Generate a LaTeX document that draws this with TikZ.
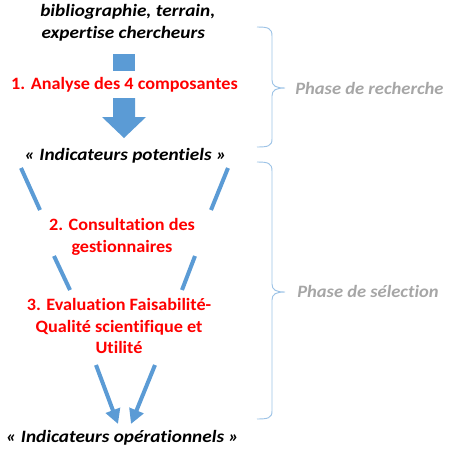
\documentclass[tikz,border=0pt]{standalone}
\usepackage{fontspec}
\setmainfont{Carlito}[Ligatures=NoCommon]
\newfontfamily\redfont{Carlito}[FakeStretch=1.05, Ligatures=NoCommon]
\newfontfamily\blackfont{Carlito}[FakeStretch=1.11, Ligatures=NoCommon]
\newfontfamily\phasefont{Carlito}[FakeStretch=1.07, Ligatures=NoCommon]
\usetikzlibrary{arrows.meta}
\definecolor{flowblue}{HTML}{5B9BD5}
\definecolor{braceblue}{HTML}{9DC3E6}
\definecolor{phasegrey}{HTML}{A6A6A6}
\definecolor{stepred}{HTML}{FF0000}
\tikzset{
  blacktxt/.style={font=\blackfont\fontsize{13}{15}\selectfont\bfseries\itshape, text=black, inner sep=0pt},
  redtxt/.style={font=\redfont\fontsize{13}{15}\selectfont\bfseries, text=stepred, inner sep=0pt, align=center},
  phasetxt/.style={font=\phasefont\fontsize{13}{15}\selectfont\bfseries\itshape, text=phasegrey, inner sep=0pt, anchor=west},
  funnel/.style={draw=flowblue, line width=3pt},
  flowarrow/.style={draw=flowblue, line width=3pt, -{Triangle[length=11pt,width=11pt]}},
  bracestyle/.style={draw=braceblue, line width=0.7pt},
}
\begin{document}
\begin{tikzpicture}[x=0.75pt,y=-0.75pt]
\useasboundingbox (0,0) rectangle (450,451);
% top sources
\node[blacktxt, align=left, anchor=north west] (src) at (40,4) {bibliographie, terrain,\\[1.5pt]\hspace*{1pt}expertise chercheurs};
% small square
\fill[flowblue] (113,54) rectangle (135,71);
% step 1
\node[redtxt] (s1) at (124.5,85) {1. Analyse des 4 composantes};
% big arrow
\fill[flowblue] (113,98) -- (135,98) -- (135,117) -- (146,117) -- (124,138) -- (102,117) -- (113,117) -- cycle;
% potentiels
\node[blacktxt] (pot) at (125.5,156) {« Indicateurs potentiels »};
% funnel 1
\draw[funnel] (21,168) -- (40,210);
\draw[funnel] (228,168) -- (211,210);
% step 2
\node[redtxt] (s2) at (122,237) {2. Consultation des\\[1pt]gestionnaires};
% funnel 2
\draw[funnel] (54,256) -- (70,290);
\draw[funnel] (195,256) -- (182,290);
% step 3
\node[redtxt] (s3) at (119,326) {3. Evaluation Faisabilité-\\[1pt]Qualité scientifique et\\[1pt]Utilité};
% arrows
\coordinate (la) at (96,365);
\coordinate (lb) at (118,424);
\coordinate (ra) at (155,365);
\coordinate (rb) at (131,424);
\draw[flowarrow] (la) -- (lb);
\draw[flowarrow] (ra) -- (rb);
% operationnels
\node[blacktxt] (ope) at (122.5,438) {« Indicateurs opérationnels »};
% braces
\draw[bracestyle] (257,27) .. controls (268,27) and (272,28) .. (272,36) -- (272,80) .. controls (272,86) and (276,88) .. (285,88) .. controls (276,88) and (272,90) .. (272,96) -- (272,139) .. controls (272,146) and (268,147) .. (257,147);
\draw[bracestyle] (257,162) .. controls (268,162) and (272,163) .. (272,171) -- (272,284) .. controls (272,290) and (276,292) .. (285,292) .. controls (276,292) and (272,294) .. (272,300) -- (272,411) .. controls (272,418) and (268,419) .. (257,419);
\node[phasetxt] (p1) at (295,88) {Phase de recherche};
\node[phasetxt] (p2) at (297,291) {Phase de sélection};
\end{tikzpicture}
\end{document}
